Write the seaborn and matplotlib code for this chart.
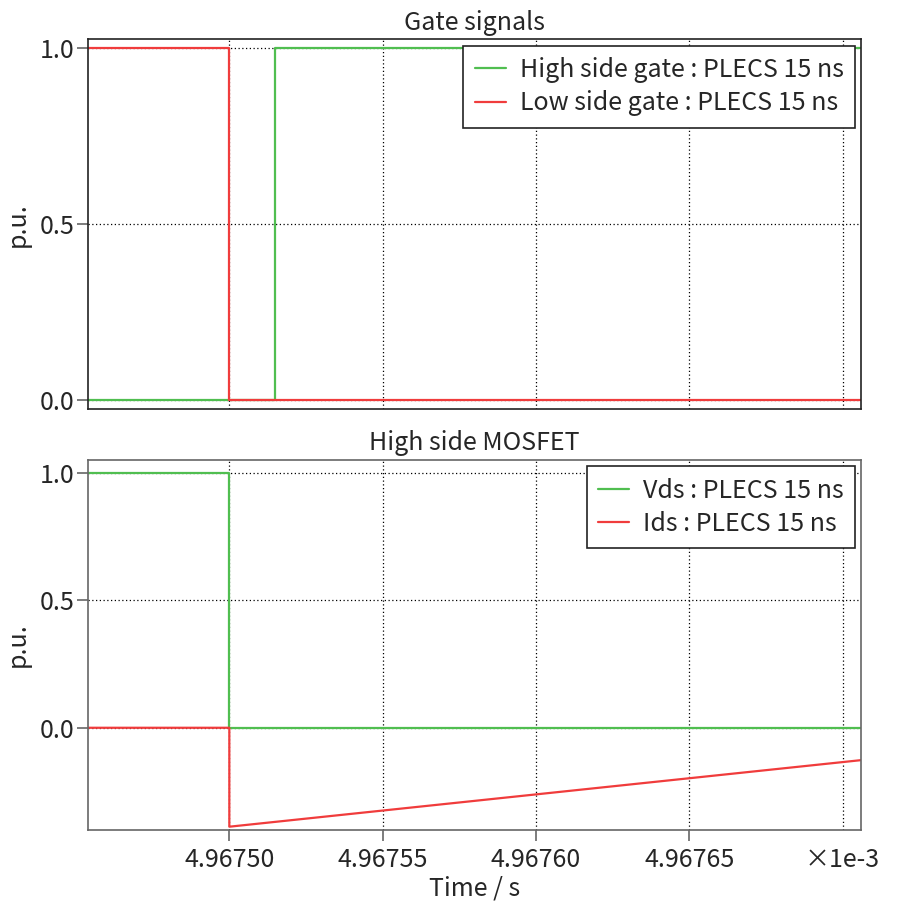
import pandas as pd
import matplotlib
matplotlib.use("Agg")
import matplotlib.pyplot as plt
import seaborn as sns

# time axis in units of 1e-3 s
t_start = 4.967454
t_switch = 4.967500
t_deadtime = 4.967515
t_end = 4.967706

gate_high_t = [t_start, t_deadtime, t_deadtime, t_end]
gate_high_v = [0.0, 0.0, 1.0, 1.0]
gate_low_t = [t_start, t_switch, t_switch, t_end]
gate_low_v = [1.0, 1.0, 0.0, 0.0]

vds_t = [t_start, t_switch, t_switch, t_end]
vds_v = [1.0, 1.0, 0.0, 0.0]
ids_t = [t_start, t_switch, t_switch, t_end]
ids_v = [0.0, 0.0, -0.388, -0.127]

xticks = [4.96750, 4.96755, 4.96760, 4.96765, 4.96770]
xtick_labels = ["4.96750", "4.96755", "4.96760", "4.96765", "\u00d71e-3"]
yticks = [0.0, 0.5, 1.0]

GREEN = "#50be50"
RED = "#f03c3c"

sns.set_style("white")
plt.rcParams["font.family"] = ["Noto Sans CJK JP", "DejaVu Sans"]
plt.rcParams["font.size"] = 18

fig = plt.figure(figsize=(8.98, 9.02), dpi=100)
ax1 = fig.add_axes([0.0983, 0.5462, 0.8605, 0.4102])
ax2 = fig.add_axes([0.0983, 0.0798, 0.8605, 0.4102])


def draw(ax, t, v, color, label):
    df = pd.DataFrame({"t": t, "v": v})
    sns.lineplot(data=df, x="t", y="v", ax=ax, color=color, lw=1.6,
                 sort=False, estimator=None, label=label)


draw(ax1, gate_high_t, gate_high_v, GREEN, "High side gate : PLECS 15 ns")
draw(ax1, gate_low_t, gate_low_v, RED, "Low side gate : PLECS 15 ns")
draw(ax2, vds_t, vds_v, GREEN, "Vds : PLECS 15 ns")
draw(ax2, ids_t, ids_v, RED, "Ids : PLECS 15 ns")

ax1.set_ylim(-0.0265, 1.0256)
ax2.set_ylim(-0.401, 1.05)

for ax, title, spc in [(ax1, "Gate signals", "#222222"), (ax2, "High side MOSFET", "#666666")]:
    ax.set_xlim(t_start, t_end)
    ax.set_xticks(xticks)
    ax.set_yticks(yticks)
    ax.set_yticklabels([f"{y:.1f}" for y in yticks])
    ax.grid(True, color="black", linestyle=(0, (1, 2)), lw=0.9)
    ax.set_title(title, fontsize=18, pad=7)
    ax.set_ylabel("p.u.", fontsize=18, labelpad=6)
    ax.set_xlabel("")
    for s in ax.spines.values():
        s.set_color(spc)
        s.set_linewidth(1.2)
    ax.tick_params(axis="y", direction="out", length=8, width=1.2, color="#666666",
                   left=True, labelsize=18, pad=2)
    leg = ax.legend(loc="upper right", fontsize=18, frameon=True, fancybox=False,
                    framealpha=1, edgecolor="#222222", borderaxespad=0.25,
                    handlelength=1.25, handletextpad=0.55, labelspacing=0.3,
                    borderpad=0.45)
    leg.get_frame().set_linewidth(1.2)

ax1.tick_params(axis="x", bottom=False, labelbottom=False)
ax2.set_xticklabels(xtick_labels)
ax2.tick_params(axis="x", direction="out", length=8, width=1.2, color="#666666",
                bottom=True, labelsize=18, pad=4)
ax2.xaxis.get_major_ticks()[-1].tick1line.set_visible(False)
ax2.set_xlabel("Time / s", fontsize=18, labelpad=2)

fig.savefig("out.png", dpi=100)
